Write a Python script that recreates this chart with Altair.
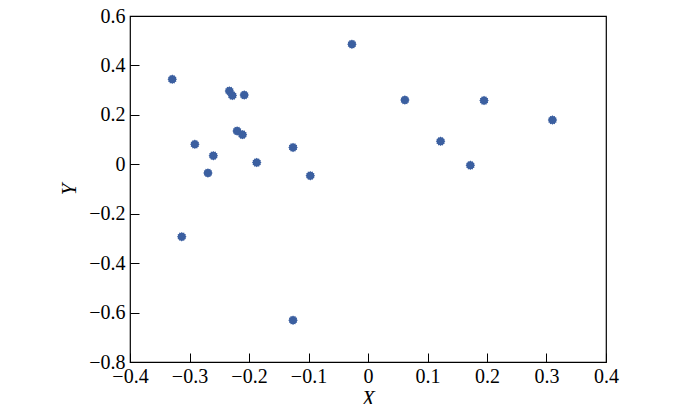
import altair as alt
import pandas as pd

xs = [-0.329, -0.291, -0.260, -0.269, -0.233, -0.228, -0.208, -0.220, -0.211, -0.187,
      -0.126, -0.097, -0.027, 0.062, 0.195, 0.310, 0.122, 0.172, -0.313, -0.126]
ys = [0.344, 0.081, 0.035, -0.035, 0.297, 0.278, 0.280, 0.135, 0.120, 0.007,
      0.068, -0.046, 0.486, 0.260, 0.258, 0.179, 0.093, -0.004, -0.293, -0.631]
x_ticks = [-0.4, -0.3, -0.2, -0.1, 0, 0.1, 0.2, 0.3, 0.4]
y_ticks = [-0.8, -0.6, -0.4, -0.2, 0, 0.2, 0.4, 0.6]

df = pd.DataFrame({"X": xs, "Y": ys})

font = "Liberation Serif"
tick_len = 9

# small many-pointed burst shape, like the reference markers
import math
pts = []
n = 12
for i in range(2 * n):
    r = 1.0 if i % 2 == 0 else 0.82
    a = math.pi * i / n
    pts.append(f"{r*math.cos(a):.3f},{r*math.sin(a):.3f}")
star = "M" + " L".join(pts) + " Z"

chart = alt.Chart(df).mark_point(
    shape=star, filled=True, size=90, color="#3b5fa0", opacity=1
).encode(
    x=alt.X("X:Q", scale=alt.Scale(domain=[-0.4, 0.4], nice=False, zero=False),
            axis=alt.Axis(title="X", values=x_ticks, grid=False, domain=False,
                          tickSize=tick_len, offset=-tick_len, tickColor="#000",
                          labelPadding=4, labelFont=font, labelFontSize=20,
                          labelColor="#000", titleFont=font, titleFontSize=21,
                          titleFontStyle="italic", titleFontWeight="normal",
                          titleColor="#000", titlePadding=1, labelFlush=False,
                          format="g")),
    y=alt.Y("Y:Q", scale=alt.Scale(domain=[-0.8, 0.6], nice=False, zero=False),
            axis=alt.Axis(title="Y", values=y_ticks, grid=False, domain=False,
                          tickSize=tick_len, offset=-tick_len, tickColor="#000",
                          labelPadding=5, labelFont=font, labelFontSize=20,
                          labelColor="#000", titleFont=font, titleFontSize=21,
                          titleFontStyle="italic", titleFontWeight="normal",
                          titleColor="#000", titlePadding=9, labelFlush=False,
                          format="g")),
).properties(
    width=476, height=346,
    autosize=alt.AutoSizeParams(type="none"),
    padding={"left": 122, "top": 8, "right": 86, "bottom": 42},
).configure_view(
    stroke="#000", strokeWidth=1.2
)

chart.save("out.html", embed_options={"renderer": "svg", "actions": False})
